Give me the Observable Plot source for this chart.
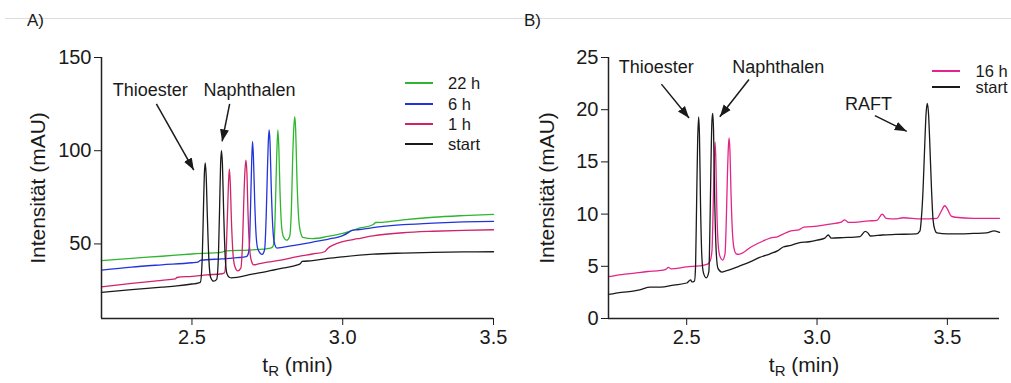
<!DOCTYPE html>
<html><head><meta charset="utf-8">
<script src="https://cdn.jsdelivr.net/npm/d3@7"></script>
<script src="https://cdn.jsdelivr.net/npm/@observablehq/plot@0.6"></script>
<style>
html,body{margin:0;padding:0;background:#fff;}
#root{position:relative;width:1011px;height:383px;overflow:hidden;font-family:"Liberation Sans",Arial,sans-serif;color:#1a1a1a;}
.panel{position:absolute;top:0;}
.rule{position:absolute;left:5px;right:0;top:18px;height:1px;background:#dddddd;}
.tag{position:absolute;font-size:17px;top:12px;line-height:17px;}
.legend{position:absolute;left:0;top:0;font-size:16.5px;}
.legend .row{position:absolute;white-space:nowrap;line-height:18px;}
.legend .sw{position:absolute;height:2px;}
</style></head>
<body><div id="root"></div>
<script>
// ---------- Panel A data (t in min, intensity in mAU) ----------
const tA_start = [2.20,2.30,2.40,2.45,2.50,2.52,2.528,2.534,2.538,2.541,2.544,2.547,2.551,2.556,2.562,2.572,2.582,2.588,2.592,2.595,2.598,2.601,2.605,2.610,2.616,2.625,2.63,2.70,2.75,2.80,2.85,2.86,2.865,2.90,2.95,3.00,3.10,3.20,3.30,3.40,3.50];
const yA_start = [24.0,25.5,26.8,27.5,28.5,29.0,29.5,42,68,87,93.4,87,65,42,32,30.0,31,45,72,93,100,93,68,44,34,32.0,31.8,33.8,35.3,37.0,38.8,39.5,40.6,41.0,42.2,43.1,44.5,45.1,45.5,45.7,45.8];
const tA_1h = [2.20,2.30,2.40,2.445,2.45,2.50,2.55,2.60,2.608,2.612,2.617,2.621,2.624,2.627,2.631,2.636,2.642,2.652,2.662,2.668,2.672,2.676,2.679,2.682,2.686,2.691,2.697,2.705,2.72,2.75,2.80,2.85,2.90,2.94,2.95,2.97,3.00,3.05,3.10,3.20,3.30,3.40,3.50];
const yA_1h = [27.0,28.8,30.5,31.2,32.0,32.6,33.4,34.0,34.5,40,62,82,90.2,83,62,45,38,35.5,37,52,74,90,95,89,66,48,41,38.8,39.3,40.2,41.5,43.2,44.6,45.8,47.6,49.5,51.2,52.8,54.3,56.0,56.8,57.3,57.6];
const tA_6h = [2.20,2.30,2.40,2.50,2.52,2.53,2.60,2.65,2.68,2.685,2.690,2.694,2.698,2.701,2.704,2.708,2.713,2.719,2.733,2.741,2.746,2.750,2.753,2.756,2.759,2.763,2.768,2.774,2.782,2.80,2.85,2.90,2.95,3.00,3.02,3.03,3.05,3.10,3.20,3.30,3.40,3.50];
const yA_6h = [36.0,37.6,38.8,39.9,40.3,41.3,42.0,42.6,43.2,44,48,68,94,105,96,73,54,47,44.4,47,64,88,104,111.1,104,80,59,50,47.8,48.2,49.5,51.0,52.5,54.5,56.2,57.3,57.6,58.8,60.3,61.2,61.8,62.1];
const tA_22h = [2.20,2.30,2.40,2.50,2.60,2.61,2.70,2.76,2.768,2.773,2.777,2.781,2.785,2.788,2.792,2.797,2.803,2.814,2.824,2.830,2.834,2.838,2.841,2.844,2.848,2.853,2.859,2.868,2.90,2.95,3.00,3.05,3.10,3.11,3.13,3.20,3.30,3.40,3.50];
const yA_22h = [41.0,42.3,43.4,44.6,45.6,46.3,46.8,47.8,48.5,53,72,97,111.1,102,78,60,54,52,54,70,96,113,118.3,111,86,66,57,53.5,52.8,54.0,55.6,58.2,60.3,61.5,61.6,62.9,64.3,65.2,65.9];

// ---------- Panel B data ----------
const tB_start = [2.20,2.25,2.30,2.32,2.36,2.40,2.45,2.50,2.515,2.52,2.53,2.534,2.538,2.542,2.546,2.549,2.553,2.558,2.564,2.575,2.585,2.590,2.594,2.597,2.600,2.603,2.607,2.613,2.620,2.635,2.65,2.70,2.75,2.78,2.82,2.85,2.87,2.90,2.93,2.97,3.00,3.03,3.043,3.055,3.10,3.165,3.185,3.195,3.205,3.25,3.30,3.38,3.395,3.400,3.407,3.413,3.418,3.423,3.428,3.433,3.439,3.445,3.452,3.46,3.50,3.55,3.60,3.65,3.68,3.70];
const yB_start = [2.3,2.5,2.65,2.75,3.0,3.0,3.2,3.4,3.7,3.5,3.6,5,11,17,19.3,17.5,11,6,4.4,3.9,4.5,10,16,19,19.65,18,12,6.5,4.8,4.45,4.55,5.0,5.5,5.85,6.2,6.5,6.85,7.0,7.25,7.35,7.5,7.7,8.0,7.7,7.75,7.85,8.35,8.2,7.9,8.0,8.05,8.1,8.4,9.5,12.5,16.5,19.5,20.6,19.5,16.5,12.5,9.5,8.5,8.2,8.1,8.1,8.15,8.2,8.4,8.25];
const tB_16h = [2.20,2.25,2.30,2.35,2.40,2.42,2.43,2.44,2.50,2.55,2.58,2.59,2.597,2.601,2.605,2.609,2.612,2.616,2.621,2.627,2.638,2.647,2.652,2.656,2.660,2.663,2.666,2.670,2.675,2.681,2.690,2.70,2.75,2.80,2.82,2.85,2.88,2.90,2.93,2.95,3.00,3.05,3.09,3.107,3.12,3.20,3.23,3.25,3.265,3.30,3.33,3.40,3.46,3.475,3.49,3.50,3.515,3.53,3.60,3.70];
const yB_16h = [4.0,4.2,4.35,4.5,4.6,4.7,4.9,4.75,4.95,5.05,5.2,5.5,6.5,10,14.5,16.9,15,10,7,6,5.6,6.2,9.5,13.5,16.5,17.3,16,12,8.5,6.8,6.2,6.15,6.9,7.5,7.7,7.85,8.2,8.4,8.5,8.75,8.85,9.05,9.2,9.45,9.2,9.35,9.4,10.0,9.6,9.55,9.65,9.55,9.6,10.2,10.8,10.5,9.8,9.7,9.6,9.6];

// ---------- labels, ticks, colours ----------
const namesA = ["22 h","6 h","1 h","start"];
const colorsA = ["#2fb52f","#2233dd","#cf2468","#1a1a1a"];
const namesB = ["16 h","start"];
const colorsB = ["#e4248a","#1a1a1a"];
const xTicksA = [2.5,3.0,3.5], yTicksA = [50,100,150];
const xTicksB = [2.5,3.0,3.5], yTicksB = [0,5,10,15,20,25];
const xDomainA = [2.2,3.5], yDomainA = [10,150];
const xDomainB = [2.2,3.7], yDomainB = [0,25];
const yTitle = "Intensität (mAU)";
const xTitle = "tR (min)";

// annotations: label position and arrow from -> to (data units)
const annA = [
  {label:"Thioester",  tx:2.362, ty:132.6, ax1:2.382, ay1:125.1, ax2:2.506, ay2:89.6},
  {label:"Naphthalen", tx:2.691, ty:132.6, ax1:2.625, ay1:125.1, ax2:2.600, ay2:105}
];
const annB = [
  {label:"Thioester",  tx:2.383, ty:24.04, ax1:2.403, ay1:22.45, ax2:2.509, ay2:19.2},
  {label:"Naphthalen", tx:2.851, ty:24.04, ax1:2.739, ay1:22.9,  ax2:2.627, ay2:19.33},
  {label:"RAFT",       tx:3.197, ty:20.48, ax1:3.222, ay1:19.43, ax2:3.344, ay2:17.93}
];

function rows(name, t, y){ return t.map((v,i)=>({name, t:v, y:y[i]})); }
const dataA = [...rows("22 h",tA_22h,yA_22h), ...rows("6 h",tA_6h,yA_6h), ...rows("1 h",tA_1h,yA_1h), ...rows("start",tA_start,yA_start)];
const dataB = [...rows("16 h",tB_16h,yB_16h), ...rows("start",tB_start,yB_start)];

const FONT = '"Liberation Sans", Arial, sans-serif';

function makePanel(o){
  return Plot.plot({
    width:o.width, height:383,
    marginLeft:o.ml, marginRight:o.mr, marginTop:57, marginBottom:65,
    style:{fontFamily:FONT, fontSize:"20px", color:"#1a1a1a", background:"transparent", overflow:"visible"},
    x:{domain:o.xd, ticks:o.xt, tickFormat:".1f", tickSize:7, tickPadding:4, label:null},
    y:{domain:o.yd, ticks:o.yt, tickSize:7, tickPadding:3, label:null},
    color:{domain:o.names, range:o.colors},
    marks:[
      Plot.line(o.data, {x:"t", y:"y", z:"name", stroke:"name", strokeWidth:1.3, curve:"monotone-x"}),
      Plot.ruleX([o.xd[0]], {stroke:"#222", strokeWidth:1.5}),
      Plot.ruleY([o.yd[0]], {stroke:"#222", strokeWidth:1.5}),
      Plot.link(o.ann, {x1:"ax1", y1:"ay1", x2:"ax2", y2:"ay2", stroke:"#1a1a1a", strokeWidth:1.5, markerEnd:"arrow"}),
      Plot.text(o.ann, {x:"tx", y:"ty", text:"label", fontSize:18, fill:"#1a1a1a"}),
      Plot.text([yTitle], {frameAnchor:"left", dx:o.ydx, rotate:-90, textAnchor:"middle", lineAnchor:"middle", fontSize:21, fill:"#1a1a1a"}),
      Plot.text([xTitle], {frameAnchor:"bottom", dy:47, textAnchor:"middle", lineAnchor:"middle", fontSize:21, fill:"#1a1a1a"})
    ]
  });
}

function fixup(svg){
  svg.querySelectorAll("marker").forEach(m=>{
    m.setAttribute("viewBox","-12 -6 12 12");
    m.setAttribute("markerWidth","8");
    m.setAttribute("markerHeight","8");
    m.setAttribute("fill","#1a1a1a");
    m.setAttribute("stroke","none");
    while(m.firstChild) m.removeChild(m.firstChild);
    const p = document.createElementNS("http://www.w3.org/2000/svg","path");
    p.setAttribute("d","M-12,-4.5L0,0L-12,4.5Z");
    m.appendChild(p);
  });
  svg.querySelectorAll("text").forEach(t=>{
    if (t.textContent === xTitle){
      while(t.firstChild) t.removeChild(t.firstChild);
      const ns = "http://www.w3.org/2000/svg";
      const a = document.createElementNS(ns,"tspan"); a.textContent = "t";
      const b = document.createElementNS(ns,"tspan"); b.textContent = "R"; b.setAttribute("font-size","15"); b.setAttribute("dy","4");
      const c = document.createElementNS(ns,"tspan"); c.textContent = " (min)"; c.setAttribute("dy","-4");
      t.appendChild(a); t.appendChild(b); t.appendChild(c);
    }
  });
}

const root = document.getElementById("root");
const rule = document.createElement("div"); rule.className = "rule"; root.appendChild(rule);

const svgA = makePanel({width:505, ml:101, mr:12, xd:xDomainA, yd:yDomainA, xt:xTicksA, yt:yTicksA, names:namesA, colors:colorsA, data:dataA, ann:annA, ydx:-63});
const svgB = makePanel({width:506, ml:103, mr:12, xd:xDomainB, yd:yDomainB, xt:xTicksB, yt:yTicksB, names:namesB, colors:colorsB, data:dataB, ann:annB, ydx:-61});
fixup(svgA); fixup(svgB);
const pA = document.createElement("div"); pA.className="panel"; pA.style.left="0px"; pA.appendChild(svgA); root.appendChild(pA);
const pB = document.createElement("div"); pB.className="panel"; pB.style.left="505px"; pB.appendChild(svgB); root.appendChild(pB);

function tag(txt, left){ const d=document.createElement("div"); d.className="tag"; d.style.left=left+"px"; d.textContent=txt; root.appendChild(d); }
tag("A)", 27); tag("B)", 524);

function legend(names, colors, lineX, textX, top, step){
  const g = document.createElement("div"); g.className = "legend";
  names.forEach((n,i)=>{
    const cy = top + i*step;
    const sw = document.createElement("div"); sw.className="sw";
    sw.style.left = lineX[0]+"px"; sw.style.width = (lineX[1]-lineX[0])+"px"; sw.style.top = (cy-1)+"px"; sw.style.background = colors[i];
    const r = document.createElement("div"); r.className="row";
    r.style.left = textX+"px"; r.style.top = (cy-9)+"px"; r.textContent = n;
    g.appendChild(sw); g.appendChild(r);
  });
  root.appendChild(g);
}
legend(namesA, colorsA, [405,433], 448, 83.3, 20.2);
legend(namesB, colorsB, [932,960], 975.5, 70.7, 16.6);
</script></body></html>
